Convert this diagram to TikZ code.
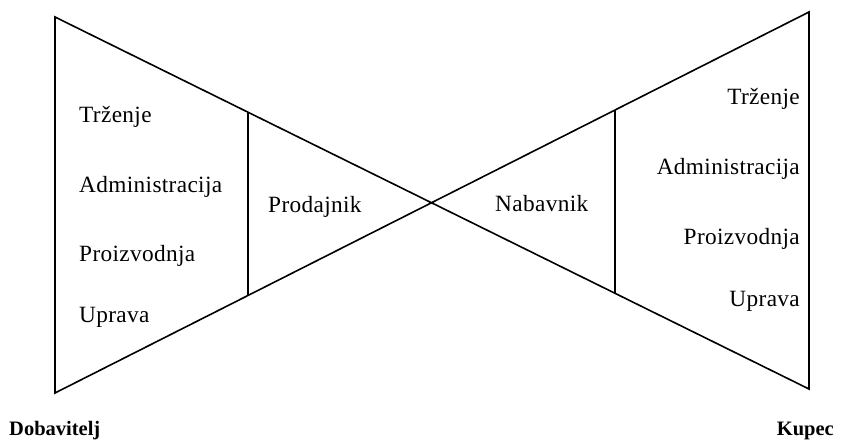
\documentclass[tikz,border=0pt]{standalone}
\usepackage{fontspec}
\setmainfont{Liberation Serif}
\newfontfamily\spacedfont{Liberation Serif}[LetterSpace=1.5]
\usetikzlibrary{calc}
\begin{document}
\begin{tikzpicture}[x=1pt,y=-1pt,
  edge/.style={line width=1.6pt,line join=miter},
  lbl/.style={inner sep=0pt,font=\spacedfont\fontsize{23.3}{25}\selectfont},
  lblL/.style={lbl,anchor=base west},
  lblR/.style={lbl,anchor=base east},
  title/.style={inner sep=0pt,font=\bfseries\fontsize{20.5}{22}\selectfont}]
\useasboundingbox (0,0) rectangle (847,443);
% corners
\coordinate (TL) at (55,17);
\coordinate (BL) at (55,393);
\coordinate (TR) at (809,12);
\coordinate (BR) at (809,389);
% inner verticals
\coordinate (LIT) at ($(TL)!{193/754}!(BR)$);
\coordinate (LIB) at ($(BL)!{193/754}!(TR)$);
\coordinate (RIT) at ($(BL)!{560/754}!(TR)$);
\coordinate (RIB) at ($(TL)!{560/754}!(BR)$);
\draw[edge] (TL) -- (BR) -- (TR) -- (BL) -- cycle;
\draw[edge] (LIT) -- (LIB);
\draw[edge] (RIT) -- (RIB);
% left labels
\node[lblL] (l1) at (79,123) {Trženje};
\node[lblL] (l2) at (79,193) {Administracija};
\node[lblL] (l3) at (79,262) {Proizvodnja};
\node[lblL] (l4) at (79,323) {Uprava};
% right labels
\node[lblR] (r1) at (800,105) {Trženje};
\node[lblR] (r2) at (800,175) {Administracija};
\node[lblR] (r3) at (800,245) {Proizvodnja};
\node[lblR] (r4) at (800,307) {Uprava};
% middle
\node[lblL] (prod) at (268,213) {Prodajnik};
\node[lblL] (nab) at (495,212) {Nabavnik};
% titles
\node[title,anchor=base west] (dob) at (9,436) {Dobavitelj};
\node[title,anchor=base east] (kup) at (834,436) {Kupec};
\end{tikzpicture}
\end{document}
